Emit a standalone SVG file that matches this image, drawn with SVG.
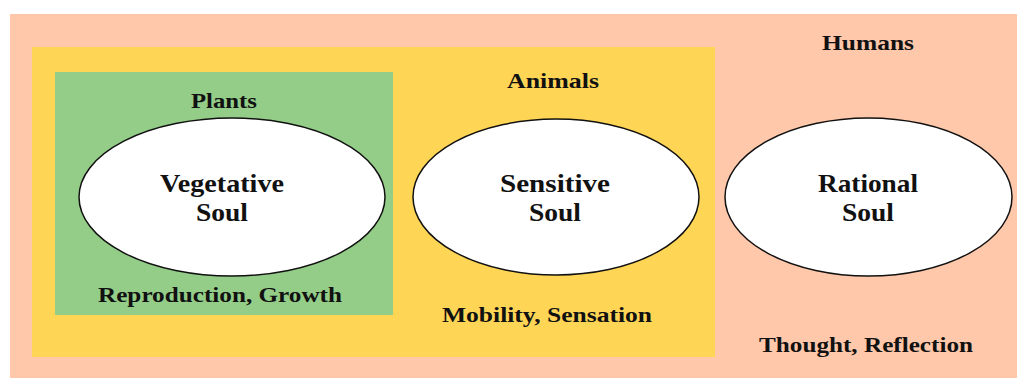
<svg xmlns="http://www.w3.org/2000/svg" width="1017" height="378" viewBox="0 0 1017 378">
<style>
text{font-family:"Liberation Serif","DejaVu Serif",serif;font-weight:bold;fill:#111;text-anchor:middle}
.lbl{font-size:21px}
.soul{font-size:26px}
ellipse{fill:#fff;stroke:#111;stroke-width:1.5}
</style>
<rect width="1017" height="378" fill="#fff"/>
<g id="humans">
<rect x="10" y="14" width="1007" height="364" fill="#FFC8AA"/>
<text class="lbl" x="868" y="50" textLength="92" lengthAdjust="spacingAndGlyphs">Humans</text>
<text class="lbl" x="866" y="352" textLength="214" lengthAdjust="spacingAndGlyphs">Thought, Reflection</text>
</g>
<g id="animals">
<rect x="32" y="47" width="683" height="310" fill="#FFD556"/>
<text class="lbl" x="553" y="88" textLength="92" lengthAdjust="spacingAndGlyphs">Animals</text>
<text class="lbl" x="547" y="322" textLength="210" lengthAdjust="spacingAndGlyphs">Mobility, Sensation</text>
</g>
<g id="plants">
<rect x="55" y="72" width="338" height="243" fill="#93CD88"/>
<text class="lbl" x="224" y="108" textLength="66" lengthAdjust="spacingAndGlyphs">Plants</text>
<text class="lbl" x="220" y="302" textLength="244" lengthAdjust="spacingAndGlyphs">Reproduction, Growth</text>
</g>
<g id="vegetative-soul">
<ellipse cx="232" cy="197" rx="153" ry="79"/>
<text class="soul" x="222" y="192" textLength="124" lengthAdjust="spacingAndGlyphs">Vegetative</text>
<text class="soul" x="222" y="221" textLength="52" lengthAdjust="spacingAndGlyphs">Soul</text>
</g>
<g id="sensitive-soul">
<ellipse cx="556" cy="197" rx="143" ry="78"/>
<text class="soul" x="555" y="192" textLength="110" lengthAdjust="spacingAndGlyphs">Sensitive</text>
<text class="soul" x="555" y="221" textLength="52" lengthAdjust="spacingAndGlyphs">Soul</text>
</g>
<g id="rational-soul">
<ellipse cx="868.5" cy="197" rx="143.5" ry="79"/>
<text class="soul" x="868" y="192" textLength="100" lengthAdjust="spacingAndGlyphs">Rational</text>
<text class="soul" x="868" y="221" textLength="52" lengthAdjust="spacingAndGlyphs">Soul</text>
</g>
<g id="connectors"/>
</svg>
